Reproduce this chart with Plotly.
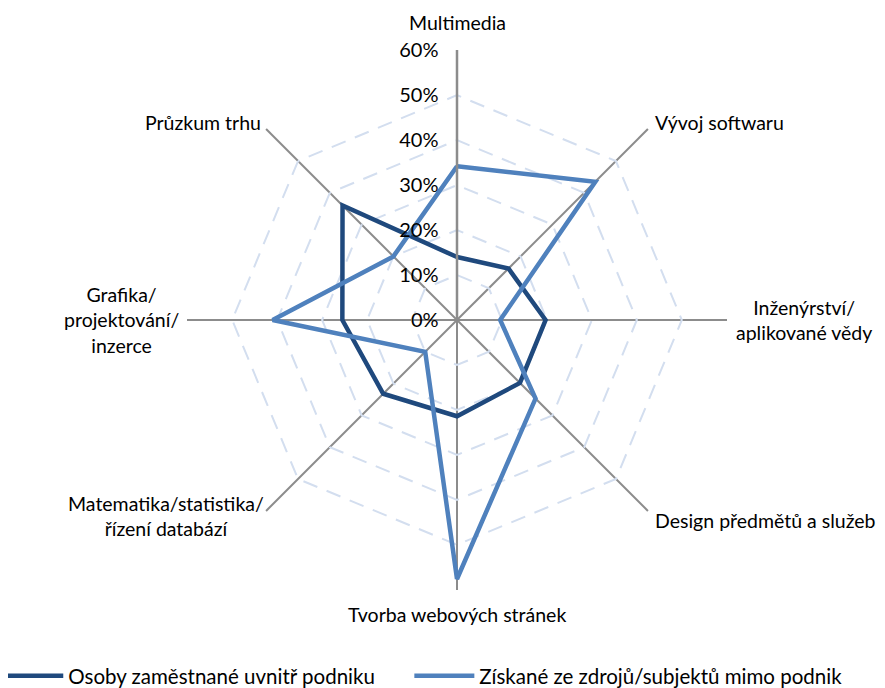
import math
import plotly.graph_objects as go

categories = ["Multimedia", "Vývoj softwaru", "Inženýrství/<br>aplikované vědy",
              "Design předmětů a služeb", "Tvorba webových stránek",
              "Matematika/statistika/<br>řízení databází", "Grafika/<br>projektování/<br>inzerce",
              "Průzkum trhu"]
series_names = ["Osoby zaměstnané uvnitř podniku", "Získané ze zdrojů/subjektů mimo podnik"]
internal = [0.14, 0.162, 0.197, 0.198, 0.214, 0.232, 0.255, 0.36]
external = [0.342, 0.435, 0.096, 0.247, 0.576, 0.10, 0.41, 0.20]
tick_vals = [0, 0.1, 0.2, 0.3, 0.4, 0.5, 0.6]
tick_text = ["0%", "10%", "20%", "30%", "40%", "50%", "60%"]
colors = ["#1F497D", "#4F81BD"]

FONT = "Lato"
FS = 19.5
PAD = "\u00a0\u00a0"

fig = go.Figure()
for i, (name, vals, col) in enumerate(zip(series_names, [internal, external], colors)):
    fig.add_trace(go.Scatterpolar(
        r=vals + vals[:1], theta=categories + categories[:1], name=name,
        mode="lines", line=dict(color=col, width=4.5),
        legend="legend" if i == 0 else "legend2",
    ))

W, H = 885, 688
cx, cy, R = 449, 312, 270

# category labels placed around the outer octagon (centered multi-line text)
label_style = [  # xanchor, yanchor, xshift, yshift
    ("center", "middle", 0, 28),
    ("left", "middle", 5, 7),
    ("left", "middle", 7, 0),
    ("left", "middle", 5, -10),
    ("center", "middle", 0, -24),
    ("right", "middle", 0, -5),
    ("right", "middle", -6, 0),
    ("right", "middle", -3, 7),
]
annotations = []
n = len(categories)
for i, (lab, (xa, ya, xs, ys)) in enumerate(zip(categories, label_style)):
    ang = 2 * math.pi * i / n
    px = cx + R * math.sin(ang)
    py = cy - R * math.cos(ang)
    annotations.append(dict(
        x=px / W, y=1 - py / H, xref="paper", yref="paper", text=lab,
        showarrow=False, xanchor=xa, yanchor=ya, xshift=xs, yshift=ys,
        align="center", font=dict(family=FONT, size=FS, color="#000000"),
    ))

legend_common = dict(orientation="h", y=0.0, xanchor="left", yanchor="bottom",
                     font=dict(size=20.5, family=FONT), itemwidth=60,
                     bgcolor="rgba(0,0,0,0)")

fig.update_layout(
    width=W, height=H,
    margin=dict(l=0, r=0, t=0, b=0, autoexpand=False),
    paper_bgcolor="white", plot_bgcolor="white",
    font=dict(family=FONT, size=FS, color="#000000"),
    polar=dict(
        domain=dict(x=[(cx - R) / W, (cx + R) / W], y=[1 - (cy + R) / H, 1 - (cy - R) / H]),
        bgcolor="white",
        gridshape="linear",
        radialaxis=dict(
            range=[0, 0.6005], tickvals=tick_vals, ticktext=[t + PAD for t in tick_text],
            angle=90, side="counterclockwise", tickangle=90,
            showline=True, linecolor="#8C8C8C", linewidth=2.5,
            gridcolor="#D3DEEF", gridwidth=1.5, griddash="15px,10px",
            ticks="", tickfont=dict(size=20, family=FONT),
        ),
        angularaxis=dict(
            direction="clockwise", rotation=90,
            showline=False, gridcolor="#8C8C8C", gridwidth=1.5,
            ticks="", showticklabels=False,
        ),
    ),
    annotations=annotations,
    legend=dict(x=-0.011, **legend_common),
    legend2=dict(x=0.4535, **legend_common),
    showlegend=True,
)
fig.write_html("out.html")
